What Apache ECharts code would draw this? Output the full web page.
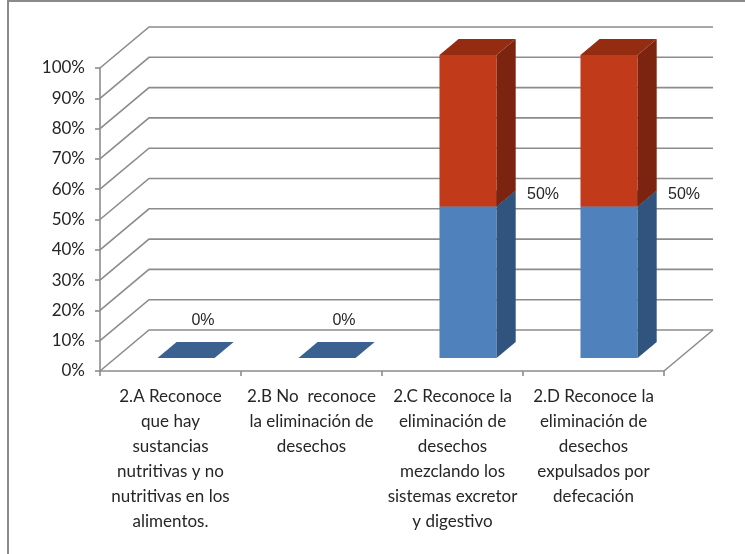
<!DOCTYPE html>
<html>
<head>
<meta charset="utf-8">
<script src="https://cdn.jsdelivr.net/npm/echarts@6/dist/echarts.min.js"></script>
<style>
  html, body { margin: 0; padding: 0; background: #fff; }
  #chart { width: 745px; height: 554px; }
</style>
</head>
<body>
<div id="chart"></div>
<script>
// Categories (x axis) and the two stacked series, as fractions of 1
const categories = [
  '2.A Reconoce\nque hay\nsustancias\nnutritivas y no\nnutritivas en los\nalimentos.',
  '2.B No  reconoce\nla eliminación de\ndesechos',
  '2.C Reconoce la\neliminación de\ndesechos\nmezclando los\nsistemas excretor\ny digestivo',
  '2.D Reconoce la\neliminación de\ndesechos\nexpulsados por\ndefecación'
];
const serieAzul = [0, 0, 0.5, 0.5];
const serieRoja = [0, 0, 0.5, 0.5];
const yTicks = [0, 0.1, 0.2, 0.3, 0.4, 0.5, 0.6, 0.7, 0.8, 0.9, 1];

// 3D look: depth of the floor/wall and where the bars sit inside it
const DEPTH = [49, -41];
const BAR_FRONT = 0.317;
const BAR_DEPTH = 0.39;
const BAR_RATIO = 0.405;

const GRID_COLOR = '#8c8c8c';
const TEXT_COLOR = '#262626';

const palette = {
  azul: { front: '#4f81bd', side: '#31547e', top: '#3b6191' },
  roja: { front: '#c13a19', side: '#7c2410', top: '#942c12' }
};

const chart = echarts.init(document.getElementById('chart'), null, { renderer: 'canvas' });

function pct(v) { return Math.round(v * 100) + '%'; }

// Back wall lines and left wall diagonals, one element per y tick
function renderWall(params, api) {
  const v = api.value(1);
  const cs = params.coordSys;
  const y = api.coord([0, v])[1];
  const x0 = cs.x;
  const x1 = cs.x + cs.width;
  const style = { stroke: GRID_COLOR, lineWidth: 1.6, fill: null };
  const children = [{
    type: 'polyline',
    shape: { points: [[x0, y], [x0 + DEPTH[0], y + DEPTH[1]], [x1 + DEPTH[0], y + DEPTH[1]]] },
    style: style,
    silent: true
  }];
  if (v === 0) {
    children.push({
      type: 'line',
      shape: { x1: x1, y1: y, x2: x1 + DEPTH[0], y2: y + DEPTH[1] },
      style: style,
      silent: true
    });
  }
  return { type: 'group', children: children };
}

// Stacked 3D bar segment: front face, right side and top
function makeBarRenderer(baseValues, colors, withLabel) {
  return function (params, api) {
    const i = api.value(0);
    const val = api.value(1);
    const base = baseValues ? baseValues[i] : 0;
    if (!withLabel && val === 0) return null;
    const pBase = api.coord([i, base]);
    const pTop = api.coord([i, base + val]);
    const w = api.size([1, 0])[0] * BAR_RATIO;
    const sx = DEPTH[0] * BAR_FRONT, sy = DEPTH[1] * BAR_FRONT;
    const dx = DEPTH[0] * BAR_DEPTH, dy = DEPTH[1] * BAR_DEPTH;
    const cx = pBase[0] + sx;
    const xl = cx - w / 2, xr = cx + w / 2;
    const yb = pBase[1] + sy, yt = pTop[1] + sy;
    const children = [];
    if (yb - yt > 0.5) {
      children.push({
        type: 'rect',
        shape: { x: xl, y: yt, width: w, height: yb - yt },
        style: { fill: colors.front }
      });
      children.push({
        type: 'polygon',
        shape: { points: [[xr, yt], [xr + dx, yt + dy], [xr + dx, yb + dy], [xr, yb]] },
        style: { fill: colors.side }
      });
    }
    children.push({
      type: 'polygon',
      shape: { points: [[xl, yt], [xr, yt], [xr + dx, yt + dy], [xl + dx, yt + dy]] },
      style: { fill: colors.top }
    });
    if (withLabel) {
      const lx = val === 0 ? cx + 17 : cx + 75;
      const ly = val === 0 ? yt - 37 : yt - 12;
      children.push({
        type: 'text',
        x: lx, y: ly,
        style: {
          text: pct(val),
          fill: TEXT_COLOR,
          font: 'normal 400 16px "Liberation Sans", Arial, sans-serif',
          align: 'center',
          verticalAlign: 'middle'
        }
      });
    }
    return { type: 'group', children: children };
  };
}

const option = {
  backgroundColor: '#ffffff',
  animation: false,
  grid: { left: 100, top: 68, width: 564, height: 303 },
  xAxis: {
    type: 'category',
    data: categories,
    axisLine: { lineStyle: { color: GRID_COLOR, width: 1.6 } },
    axisTick: { show: true, length: 5, lineStyle: { color: GRID_COLOR, width: 1.6 } },
    axisLabel: {
      interval: 0,
      margin: 13,
      color: TEXT_COLOR,
      fontFamily: 'Lato',
      fontSize: 17,
      lineHeight: 25,
      align: 'center'
    },
    splitLine: { show: false }
  },
  yAxis: {
    type: 'value',
    min: 0,
    max: 1,
    interval: 0.1,
    axisLine: { show: true, lineStyle: { color: GRID_COLOR, width: 1.6 } },
    axisTick: { show: true, length: 5, lineStyle: { color: GRID_COLOR, width: 1.6 } },
    axisLabel: {
      margin: 15,
      color: TEXT_COLOR,
      fontFamily: 'Lato',
      fontSize: 17,
      formatter: pct
    },
    splitLine: { show: false }
  },
  graphic: [{
    type: 'polyline',
    shape: { points: [[8, 560], [8, 1], [760, 1]] },
    style: { stroke: '#8a8a8a', lineWidth: 2, fill: null },
    silent: true
  }],
  series: [
    {
      type: 'custom',
      name: 'pared',
      renderItem: renderWall,
      data: yTicks.map(v => [0, v]),
      encode: { x: 0, y: 1 },
      z: 1,
      silent: true
    },
    {
      type: 'custom',
      name: 'Serie 1',
      renderItem: makeBarRenderer(null, palette.azul, true),
      data: serieAzul.map((v, i) => [i, v]),
      encode: { x: 0, y: 1 },
      z: 2
    },
    {
      type: 'custom',
      name: 'Serie 2',
      renderItem: makeBarRenderer(serieAzul, palette.roja, false),
      data: serieRoja.map((v, i) => [i, v]),
      encode: { x: 0, y: 1 },
      z: 3
    }
  ]
};

chart.setOption(option);
</script>
</body>
</html>
